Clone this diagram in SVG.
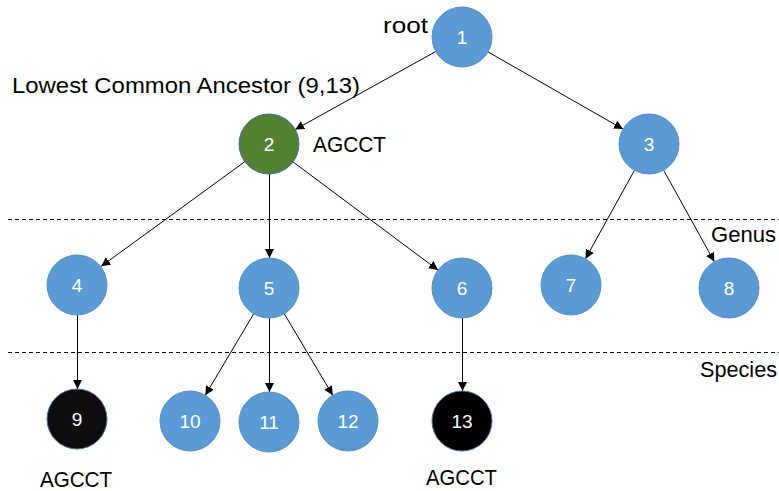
<svg xmlns="http://www.w3.org/2000/svg" width="779" height="491" viewBox="0 0 779 491">
<style>
.n{fill:#5B9BD5;stroke:#5A8FC4;stroke-width:1}
.g{fill:#548235;stroke:#41719C;stroke-width:1}
.k{fill:#0D0D0D;stroke:#41719C;stroke-width:1}
.nl{font-family:"Liberation Sans",Arial,sans-serif;font-size:19px;fill:#fff;text-anchor:middle}
.lb{font-family:"Liberation Sans",Arial,sans-serif;font-size:22px;fill:#000}
.e{stroke:#000;stroke-width:1;fill:none;marker-end:url(#ah)}
.d{stroke:#000;stroke-width:1;stroke-dasharray:4,3}
</style>
<defs>
<marker id="ah" viewBox="0 0 10 10" refX="10" refY="5" markerWidth="9" markerHeight="9" markerUnits="userSpaceOnUse" orient="auto">
<path d="M0,0 L10,5 L0,10 z" fill="#000"/>
</marker>
</defs>
<g id="guides">
<line class="d" x1="8" y1="219.5" x2="779" y2="219.5"/>
<line class="d" x1="8" y1="352.5" x2="779" y2="352.5"/>
</g>
<g id="connectors">
<line class="e" x1="435.8" y1="51.5" x2="295.2" y2="129.5"/>
<line class="e" x1="488" y1="51.9" x2="623" y2="129.1"/>
<line class="e" x1="244.8" y1="161.7" x2="101.2" y2="266.3"/>
<line class="e" x1="269.5" y1="174" x2="269.5" y2="258"/>
<line class="e" x1="293" y1="161.9" x2="438" y2="270.1"/>
<line class="e" x1="634.5" y1="170.3" x2="585.5" y2="258.7"/>
<line class="e" x1="663.6" y1="170.2" x2="714.4" y2="261.8"/>
<line class="e" x1="77.5" y1="315" x2="77.5" y2="389"/>
<line class="e" x1="253.7" y1="313.8" x2="205.3" y2="395.2"/>
<line class="e" x1="269.5" y1="318" x2="269.5" y2="392"/>
<line class="e" x1="284.3" y1="313.8" x2="332.7" y2="395.2"/>
<line class="e" x1="462.5" y1="318" x2="462.5" y2="391"/>
</g>
<g id="node1"><circle class="n" cx="462" cy="37" r="30"/><text class="nl" x="462" y="44">1</text></g>
<g id="node2"><circle class="g" cx="269" cy="144" r="30"/><text class="nl" x="269" y="151">2</text></g>
<g id="node3"><circle class="n" cx="649" cy="144" r="30"/><text class="nl" x="649" y="151">3</text></g>
<g id="node4"><circle class="n" cx="77" cy="285" r="30"/><text class="nl" x="77" y="292">4</text></g>
<g id="node5"><circle class="n" cx="269" cy="288" r="30"/><text class="nl" x="269" y="295">5</text></g>
<g id="node6"><circle class="n" cx="462" cy="288" r="30"/><text class="nl" x="462" y="295">6</text></g>
<g id="node7"><circle class="n" cx="571" cy="285" r="30"/><text class="nl" x="571" y="292">7</text></g>
<g id="node8"><circle class="n" cx="729" cy="288" r="30"/><text class="nl" x="729" y="295">8</text></g>
<g id="node9"><circle class="k" cx="77" cy="419" r="30"/><text class="nl" x="77" y="426">9</text></g>
<g id="node10"><circle class="n" cx="190" cy="421" r="30"/><text class="nl" x="190" y="428">10</text></g>
<g id="node11"><circle class="n" cx="269" cy="422" r="30"/><text class="nl" x="269" y="429">11</text></g>
<g id="node12"><circle class="n" cx="348" cy="421" r="30"/><text class="nl" x="348" y="428">12</text></g>
<g id="node13"><circle class="k" cx="462" cy="421" r="30" style="fill:#000"/><text class="nl" x="462" y="428">13</text></g>
<g id="labels">
<text class="lb" x="383" y="33" textLength="45" lengthAdjust="spacingAndGlyphs">root</text>
<text class="lb" x="12" y="93" textLength="348" lengthAdjust="spacingAndGlyphs">Lowest Common Ancestor (9,13)</text>
<text class="lb" x="313" y="152" textLength="73" lengthAdjust="spacingAndGlyphs">AGCCT</text>
<text class="lb" x="711" y="242" textLength="65" lengthAdjust="spacingAndGlyphs">Genus</text>
<text class="lb" x="700" y="377" textLength="77" lengthAdjust="spacingAndGlyphs">Species</text>
<text class="lb" x="40" y="487" textLength="72" lengthAdjust="spacingAndGlyphs">AGCCT</text>
<text class="lb" x="426" y="485" textLength="71" lengthAdjust="spacingAndGlyphs">AGCCT</text>
</g>
</svg>
